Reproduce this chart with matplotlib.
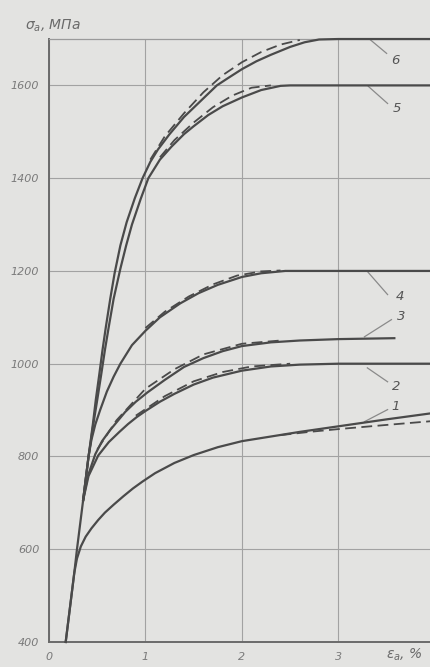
import matplotlib
matplotlib.use('Agg')
import matplotlib.pyplot as plt

# strain, % / stress, MPa
c1_x = [0.173, 0.21, 0.262, 0.29, 0.33, 0.38, 0.44, 0.51, 0.58, 0.67, 0.77, 0.87, 0.97, 1.10,
        1.30, 1.50, 1.75, 2.00, 2.30, 2.60, 3.00, 3.50, 3.96]
c1_y = [400, 462, 549, 580, 606, 627, 645, 663, 679, 696, 714, 731, 746, 764,
        786, 803, 820, 833, 843, 853, 865, 880, 893]
c1d_x = [2.40, 2.70, 3.00, 3.50, 3.96]
c1d_y = [846, 853, 859, 868, 876]

c2_x = [0.173, 0.262, 0.29, 0.354, 0.41, 0.51, 0.62, 0.73, 0.82, 0.91, 1.00, 1.15, 1.30,
        1.50, 1.70, 2.00, 2.30, 2.60, 3.00, 3.96]
c2_y = [400, 549, 600, 706, 758, 802, 831, 853, 870, 885, 898, 918, 935,
        955, 970, 985, 994, 998, 1000, 1000]
c2d_x = [0.90, 1.20, 1.50, 1.80, 2.10, 2.50]
c2d_y = [888, 930, 962, 982, 994, 1000]

c3_x = [0.354, 0.40, 0.48, 0.55, 0.63, 0.79, 0.90, 1.02, 1.20, 1.40, 1.60, 1.80, 2.00,
        2.30, 2.60, 3.00, 3.58]
c3_y = [706, 756, 805, 833, 856, 896, 918, 938, 965, 993, 1012, 1027, 1038,
        1046, 1050, 1053, 1055]
c3d_x = [0.50, 0.70, 1.00, 1.30, 1.60, 2.00, 2.40]
c3d_y = [815, 878, 946, 988, 1020, 1043, 1050]

c4_x = [0.354, 0.41, 0.44, 0.48, 0.53, 0.60, 0.67, 0.74, 0.86, 1.00, 1.15, 1.36, 1.55, 1.75,
        2.00, 2.20, 2.45, 3.96]
c4_y = [706, 800, 836, 869, 900, 940, 972, 1000, 1040, 1071, 1100, 1130, 1152, 1170,
        1187, 1195, 1200, 1200]
c4d_x = [1.00, 1.20, 1.45, 1.70, 1.95, 2.20, 2.40]
c4d_y = [1077, 1112, 1145, 1171, 1190, 1199, 1201]

c5_x = [0.354, 0.41, 0.46, 0.50, 0.54, 0.58, 0.62, 0.67, 0.74, 0.80, 0.86, 0.95, 1.03,
        1.15, 1.27, 1.40, 1.50, 1.65, 1.80, 2.00, 2.20, 2.40, 2.50, 3.96]
c5_y = [706, 800, 870, 922, 975, 1030, 1080, 1140, 1205, 1255, 1300, 1355, 1400,
        1440, 1468, 1495, 1512, 1536, 1555, 1574, 1590, 1599, 1600, 1600]
c5d_x = [1.15, 1.30, 1.50, 1.70, 1.90, 2.10, 2.30]
c5d_y = [1445, 1482, 1520, 1553, 1578, 1595, 1600]

c6_x = [0.354, 0.41, 0.455, 0.485, 0.52, 0.555, 0.59, 0.635, 0.68, 0.74, 0.805, 0.89, 0.97,
        1.05, 1.13, 1.25, 1.40, 1.50, 1.60, 1.74, 1.85, 2.00, 2.15, 2.30, 2.50, 2.65, 2.80,
        3.00, 3.96]
c6_y = [706, 800, 870, 922, 975, 1030, 1080, 1140, 1195, 1255, 1305, 1357, 1400,
        1435, 1462, 1495, 1532, 1552, 1572, 1600, 1615, 1635, 1652, 1666, 1683, 1693, 1699,
        1700, 1700]
c6d_x = [1.05, 1.20, 1.40, 1.60, 1.80, 2.00, 2.20, 2.40, 2.60]
c6d_y = [1440, 1490, 1540, 1585, 1622, 1650, 1672, 1688, 1698]

labels = ['1', '2', '3', '4', '5', '6']
lead_from = [(3.27, 875), (3.30, 991), (3.27, 1058), (3.30, 1199), (3.31, 1598), (3.31, 1702)]
lead_to = [(3.51, 901), (3.51, 961), (3.55, 1095), (3.51, 1149), (3.51, 1561), (3.50, 1669)]
text_at = [(3.55, 907), (3.56, 950), (3.61, 1101), (3.59, 1145), (3.56, 1550), (3.55, 1654)]

bg = '#e3e3e1'
ink = '#4a4a4a'
grey = '#8a8a8a'

plt.rcParams['mathtext.fontset'] = 'dejavusans'
fig = plt.figure(figsize=(4.31, 6.67), dpi=100, facecolor=bg)
ax = fig.add_axes([0.1137, 0.0375, 0.8863, 0.904])
ax.set_facecolor(bg)

solid = [(c1_x, c1_y), (c2_x, c2_y), (c3_x, c3_y), (c4_x, c4_y), (c5_x, c5_y), (c6_x, c6_y)]
dashed = [(c1d_x, c1d_y), (c2d_x, c2d_y), (c3d_x, c3d_y), (c4d_x, c4d_y), (c5d_x, c5d_y), (c6d_x, c6d_y)]
for x, y in solid:
    ax.plot(x, y, color=ink, lw=1.6, solid_joinstyle='round', clip_on=False, zorder=3)
for x, y in dashed:
    ax.plot(x, y, color=ink, lw=1.3, dashes=(6, 3), zorder=3)

for lab, a, b, t in zip(labels, lead_from, lead_to, text_at):
    ax.plot([a[0], b[0]], [a[1], b[1]], color=grey, lw=0.9, zorder=2)
    ax.text(t[0], t[1], lab, fontsize=9.5, style='italic', color='#555555',
            ha='left', va='center')

ax.set_xlim(0, 3.96)
ax.set_ylim(400, 1700)
ax.set_xticks([0, 1, 2, 3])
ax.set_yticks([400, 600, 800, 1000, 1200, 1400, 1600])
ax.set_xticklabels(['0', '1', '2', '3'])
ax.set_yticklabels(['400', '600', '800', '1000', '1200', '1400', '1600'])
ax.tick_params(length=0, labelsize=8, labelcolor='#7a7a7a', pad=7)
for lab in ax.get_xticklabels() + ax.get_yticklabels():
    lab.set_style('italic')
ax.grid(True, color='#a2a2a2', lw=0.8)
ax.set_axisbelow(True)

ax.spines['right'].set_visible(False)
ax.spines['left'].set_color('#6a6a6a')
ax.spines['left'].set_linewidth(1.4)
ax.spines['bottom'].set_color('#6a6a6a')
ax.spines['bottom'].set_linewidth(1.4)
ax.spines['top'].set_color('#9a9a9a')
ax.spines['top'].set_linewidth(0.9)

fig.text(0.058, 0.962, r'$\sigma_a$, МПа', fontsize=10, style='italic',
         color='#6a6a6a', ha='left', va='center')
fig.text(0.895, 0.018, r'$\varepsilon_a$, %', fontsize=10, style='italic',
         color='#6a6a6a', ha='left', va='center')

fig.savefig('out.png', dpi=100, facecolor=bg)
